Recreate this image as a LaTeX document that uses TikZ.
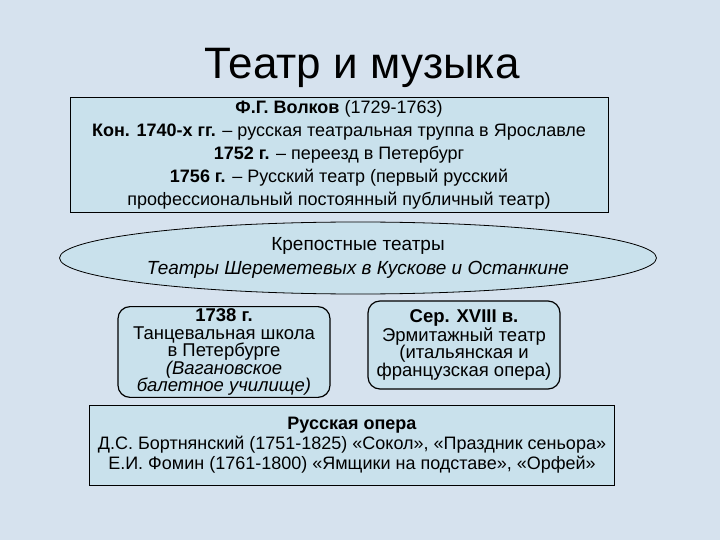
\documentclass[tikz,border=0pt]{standalone}
\usepackage{fontspec}
\setmainfont{Liberation Sans}
\usetikzlibrary{shapes.geometric}
\definecolor{bg}{HTML}{D6E2EE}
\definecolor{boxc}{HTML}{C9E1EC}
\tikzset{
  tbox/.style={draw=black,fill=boxc,line width=0.8pt,align=center,font=\fontsize{18}{23}\selectfont,inner sep=2pt},
  rbox/.style={tbox,rounded corners=12pt,line width=1.2pt,font=\fontsize{18.5}{17.5}\selectfont}
}
\begin{document}
\begin{tikzpicture}[x=1pt,y=-1pt]
\fill[bg] (0,0) rectangle (720,540);
\useasboundingbox (0,0) rectangle (720,540);
\node (title) at (362,68) {\fontsize{44}{48}\selectfont Театр и музыка};
\node[tbox,minimum width=538pt,minimum height=115pt] (volkov) at (339,155) {\textbf{Ф.Г. Волков} (1729-1763)\\\textbf{Кон. 1740-х гг.} – русская театральная труппа в Ярославле\\\textbf{1752 г.} – переезд в Петербург\\\textbf{1756 г.} – Русский театр (первый русский\\профессиональный постоянный публичный театр)};
\node[ellipse,draw=black,fill=boxc,line width=0.8pt,minimum width=556pt,minimum height=72pt,align=center,font=\fontsize{19}{24}\selectfont,inner sep=0pt] (kr) at (358,258) {Крепостные театры\\\textit{Театры Шереметевых в Кускове и Останкине}};
\node[rbox,minimum width=212pt,minimum height=85pt] (bal) at (224,352) {\textbf{1738 г.}\\Танцевальная школа\\в Петербурге\\\textit{(Вагановское}\\\textit{балетное училище)}};
\node[rbox,minimum width=192pt,minimum height=88pt] (erm) at (464,345) {\textbf{Сер. XVIII в.}\\Эрмитажный театр\\(итальянская и\\французская опера)};
\node[tbox,minimum width=525pt,minimum height=80pt,font=\fontsize{18}{20}\selectfont] (op) at (352,445) {\textbf{Русская опера}\\Д.С. Бортнянский (1751-1825) «Сокол», «Праздник сеньора»\\Е.И. Фомин (1761-1800) «Ямщики на подставе», «Орфей»};
\end{tikzpicture}
\end{document}
